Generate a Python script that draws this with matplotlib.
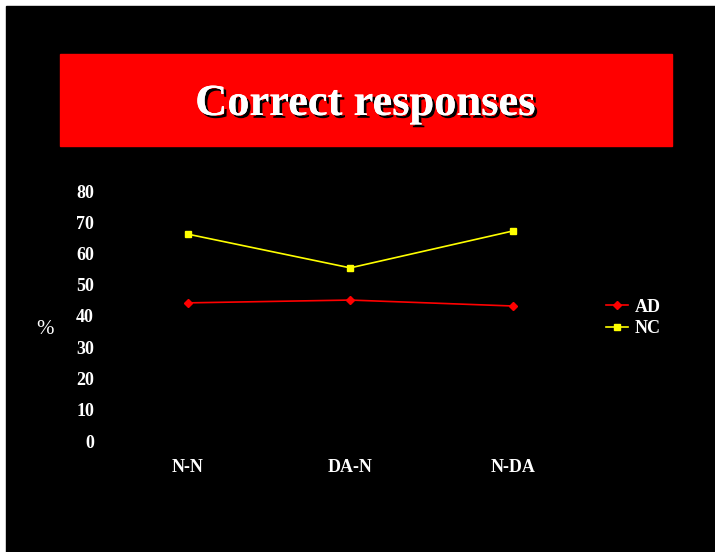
import matplotlib.pyplot as plt
import matplotlib.patheffects as pe
from matplotlib.patches import Rectangle

# data
categories = ["N-N", "DA-N", "N-DA"]
ad = [44.2, 45.1, 43.2]
nc = [66.2, 55.4, 67.2]
yticks = [0, 10, 20, 30, 40, 50, 60, 70, 80]

W, H = 715, 552
fig = plt.figure(figsize=(W / 100, H / 100), dpi=100)
fig.patch.set_facecolor("white")

# black slide background (thin white strip on left and top)
fig.patches.append(Rectangle((6 / W, 0), 1 - 6 / W, 1 - 6 / H,
                             transform=fig.transFigure, color="black", zorder=-3))
# red title band
fig.patches.append(Rectangle((60 / W, 1 - 146 / H), 612 / W, 92 / H,
                             transform=fig.transFigure, color="#ff0000", zorder=-2))
fig.text(366 / W, 1 - 104 / H, "Correct responses", ha="center", va="center",
         color="white", fontsize=32, fontweight="bold", family="Liberation Serif",
         path_effects=[pe.withSimplePatchShadow(offset=(2, -2), shadow_rgbFace="black", alpha=1),
                       pe.Normal()], zorder=3)

# axes: x 106..594, y 191..441 (pixels)
ax = fig.add_axes([106.5 / W, 1 - 441 / H, 487.5 / W, 250 / H])
ax.set_facecolor("none")
x = range(len(categories))
ax.plot(x, ad, color="#ff0000", marker="D", markersize=4.5, linewidth=1.2, label="AD")
ax.plot(x, nc, color="#ffff00", marker="s", markersize=5, linewidth=1.2, label="NC")
ax.set_xlim(-0.5, 2.5)
ax.set_ylim(0, 80)
ax.set_yticks(yticks)
ax.set_xticks(list(x))
ax.set_xticklabels(categories)
for s in ax.spines.values():
    s.set_visible(False)
ax.tick_params(length=0, colors="white", labelsize=13)
ax.tick_params(axis="y", pad=9)
ax.tick_params(axis="x", pad=13)
for lab in ax.get_xticklabels() + ax.get_yticklabels():
    lab.set_fontweight("bold")
    lab.set_family("Liberation Serif")

fig.text(45 / W, 1 - 330 / H, "%", ha="center", va="center", color="white",
         fontsize=15, family="Liberation Serif")

leg = ax.legend(loc="center left", bbox_to_anchor=(606 / W, 1 - 318 / H),
                bbox_transform=fig.transFigure, frameon=False,
                prop={"family": "Liberation Serif", "weight": "bold", "size": 13},
                handlelength=1.2, handletextpad=0.4, labelspacing=0.25,
                borderaxespad=0, borderpad=0)
for t in leg.get_texts():
    t.set_color("white")

fig.savefig("out.png", dpi=100, facecolor=fig.get_facecolor())
